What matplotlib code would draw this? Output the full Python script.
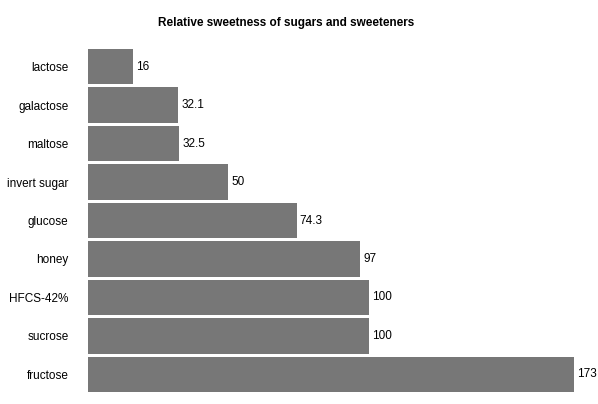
import numpy as np
import matplotlib
matplotlib.use("Agg")
import matplotlib.pyplot as plt

plt.rcParams.update({'font.family': ['Liberation Sans', 'DejaVu Sans'],
                     'font.size': 9})

# ***** data
sugars = ["lactose", "galactose", "maltose", "invert sugar", "glucose",
          "honey", "HFCS-42%", "sucrose", "fructose"]
sweetness = [16, 32.1, 32.5, 50, 74.3, 97, 100, 100, 173]
value_labels = ["16", "32.1", "32.5", "50", "74.3", "97", "100", "100", "173"]

W, H = 598, 404
fig = plt.figure(figsize=(W/100, H/100), dpi=100)
ax = fig.add_axes([88/W, 1-392/H, (574-88)/W, (392-49)/H])

y = np.arange(len(sugars))
ax.barh(y, sweetness, height=0.92, color='#777777')
ax.set_xlim(0, 173)
ax.set_ylim(len(sugars)-0.54, -0.46)

for yi, v, lab in zip(y, sweetness, value_labels):
    ax.text(v + 1.1, yi, lab, va='center', ha='left', fontsize=8.5, color='black')

ax.set_yticks(y)
ax.set_yticklabels(sugars, fontsize=8.5)
ax.tick_params(axis='y', length=0, pad=14)
ax.set_xticks([])
for s in ax.spines.values():
    s.set_visible(False)

fig.text(286/W, 1-23/H, "Relative sweetness of sugars and sweeteners",
         ha='center', va='center', fontsize=8.5, fontweight='bold')

plt.savefig('out.png', dpi=100)
